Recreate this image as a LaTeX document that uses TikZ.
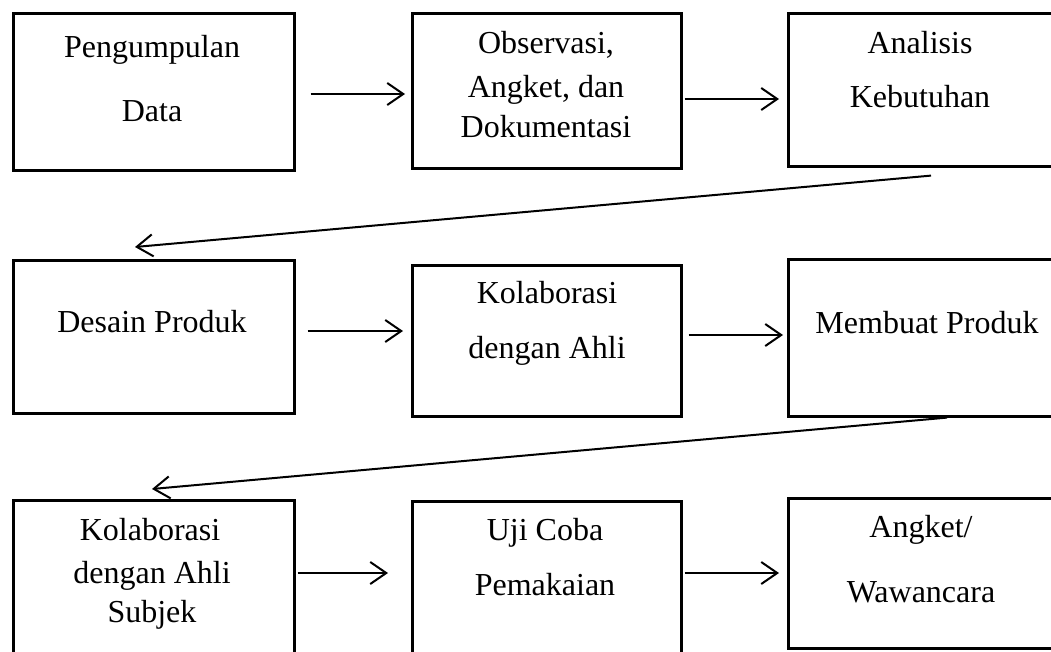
\documentclass[tikz,border=0pt]{standalone}
\usepackage{fontspec}
\setmainfont{Liberation Serif}
\usetikzlibrary{arrows.meta,calc}
\begin{document}
\begin{tikzpicture}[x=1pt,y=-1pt,
  box/.style={draw=black,line width=2.6pt,rectangle,anchor=north west,inner sep=0pt,fill=white},
  txt/.style={anchor=base,inner sep=0pt,font=\fontsize{32}{38}\selectfont},
  arr/.style={draw=black,line width=2pt,-{Straight Barb[length=16pt,width=22pt]}}]
\useasboundingbox (0,0) rectangle (1051,651);
\clip (0,0) rectangle (1051,651);
% boxes
\node[box,minimum width=281pt,minimum height=157pt] (b1) at (12,12) {};
\node[box,minimum width=269pt,minimum height=155pt] (b2) at (411,12) {};
\node[box,minimum width=278pt,minimum height=153pt] (b3) at (787,12) {};
\node[box,minimum width=281pt,minimum height=153pt] (b4) at (12,259) {};
\node[box,minimum width=269pt,minimum height=151pt] (b5) at (411,264) {};
\node[box,minimum width=278pt,minimum height=157pt] (b6) at (787,258) {};
\node[box,minimum width=281pt,minimum height=165pt] (b7) at (12,499) {};
\node[box,minimum width=269pt,minimum height=165pt] (b8) at (411,500) {};
\node[box,minimum width=278pt,minimum height=150pt] (b9) at (787,497) {};
% texts
\node[txt] (t1a) at (152,57) {Pengumpulan};
\node[txt] (t1b) at (152,121) {Data};
\node[txt] (t2a) at (546,53) {Observasi,};
\node[txt] (t2b) at (546,97) {Angket, dan};
\node[txt] (t2c) at (546,137) {Dokumentasi};
\node[txt] (t3a) at (920,53) {Analisis};
\node[txt] (t3b) at (920,107) {Kebutuhan};
\node[txt] (t4a) at (152,332) {Desain Produk};
\node[txt] (t5a) at (547,303) {Kolaborasi};
\node[txt] (t5b) at (547,358) {dengan Ahli};
\node[txt] (t6a) at (927,333) {Membuat Produk};
\node[txt] (t7a) at (150,540) {Kolaborasi};
\node[txt] (t7b) at (152,583) {dengan Ahli};
\node[txt] (t7c) at (152,622) {Subjek};
\node[txt] (t8a) at (545,540) {Uji Coba};
\node[txt] (t8b) at (545,595) {Pemakaian};
\node[txt] (t9a) at (921,537) {Angket/};
\node[txt] (t9b) at (921,602) {Wawancara};
% connectors
\draw[arr] ($(b1.north east)+(15,82)$) -- ($(b2.north west)+(-6,82)$);
\draw[arr] ($(b2.north east)+(2,87)$) -- ($(b3.north west)+(-8,87)$);
\draw[arr] ($(b3.south west)+(144,8)$) -- ($(b4.north west)+(123,-12)$);
\draw[arr] ($(b4.north east)+(12,72)$) -- ($(b5.north west)+(-8,67)$);
\draw[arr] ($(b5.north east)+(6,71)$) -- ($(b6.north west)+(-4,77)$);
\draw[arr] ($(b6.south west)+(160,0)$) -- ($(b7.north west)+(140,-10)$);
\draw[arr] ($(b7.north east)+(2,74)$) -- ($(b8.north west)+(-23,73)$);
\draw[arr] ($(b8.north east)+(2,73)$) -- ($(b9.north west)+(-8,76)$);
\end{tikzpicture}
\end{document}
